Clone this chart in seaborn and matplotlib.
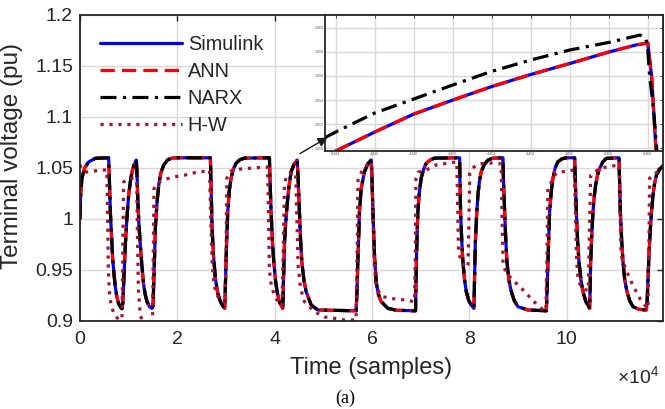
import numpy as np
import pandas as pd
import matplotlib.pyplot as plt
import seaborn as sns
from matplotlib.ticker import FuncFormatter

sns.set_theme(style='whitegrid')
plt.rcParams['font.family'] = ['Liberation Sans', 'DejaVu Sans']
plt.rcParams['mathtext.fontset'] = 'custom'
plt.rcParams['mathtext.rm'] = 'Liberation Sans'
plt.rcParams['text.color'] = '#262626'
plt.rcParams['axes.labelcolor'] = '#262626'
plt.rcParams['xtick.labelcolor'] = '#262626'
plt.rcParams['ytick.labelcolor'] = '#262626'

# Simulink terminal voltage (time in samples)
t_sim = [0, 130, 400, 950, 1780, 3150, 5880,
         6060, 6250, 6450, 6700, 7000, 7260, 7600, 7940, 8400, 8630,
         8800, 9000, 9310, 9650, 10000, 10350, 10680, 11100, 11570,
         11700, 11900, 12100, 12390, 12700, 13080, 13400, 13760, 14300, 14790,
         15000, 15200, 15480, 15800, 16170, 16600, 17190, 18000, 18900, 20000, 26780,
         26900, 27130, 27450, 27810, 28300, 28840, 29300, 29730,
         29870, 30100, 30350, 30650, 31030, 31500, 32060, 32800, 33770, 38910,
         39050, 39250, 39500, 39800, 40150, 40490, 41000, 41650,
         41800, 41990, 42250, 42540, 42950, 43370, 43950, 44600,
         44750, 45080, 45300, 45560, 46000, 46450, 47480, 48850, 56720,
         56900, 57070, 57410, 57750, 58440, 59100, 59810,
         59950, 60150, 60490, 60840, 61300, 61860, 63230, 65000, 68920,
         69000, 69150, 69400, 69700, 70080, 70600, 71110, 72000, 72830, 77970,
         78050, 78170, 78400, 78650, 79000, 79340, 79850, 80360, 80910,
         81050, 81190, 81450, 81730, 82050, 82420, 83000, 83790, 84800, 86870,
         87000, 87220, 87450, 87690, 88100, 88590, 89200, 89960, 92000, 95780,
         95950, 96120, 96460, 96800, 97150, 97600, 98170, 99000, 99890, 101600,
         101750, 101950, 102200, 102490, 102900, 103310, 103900, 104690,
         104780, 104890, 105120, 105370, 105620, 105920, 106300, 106740, 107400, 108110, 110710,
         110850, 110990, 111250, 111530, 111900, 112350, 112900, 113590, 114800, 116330,
         116500, 116670, 116900, 117160, 117420, 117700, 118000, 118390, 119100, 119900]
v_sim = [1.000, 1.0235, 1.040, 1.050, 1.056, 1.0595, 1.060,
         1.035, 1.005, 0.985, 0.962, 0.945, 0.933, 0.923, 0.917, 0.913, 0.912,
         0.918, 0.940, 0.9745, 1.002, 1.0235, 1.037, 1.046, 1.053, 1.0578,
         1.045, 1.015, 0.995, 0.9745, 0.955, 0.935, 0.926, 0.919, 0.914, 0.9124,
         0.915, 0.945, 0.991, 1.015, 1.0333, 1.045, 1.0529, 1.058, 1.0597, 1.060, 1.060,
         1.035, 0.991, 0.962, 0.9418, 0.927, 0.919, 0.915, 0.9124,
         0.935, 0.975, 1.0072, 1.027, 1.040, 1.049, 1.0546, 1.058, 1.0597, 1.060,
         1.035, 1.0072, 0.980, 0.958, 0.940, 0.9288, 0.918, 0.9124,
         0.940, 0.9745, 0.996, 1.0137, 1.033, 1.0464, 1.0535, 1.0578,
         1.045, 1.0072, 0.980, 0.958, 0.940, 0.9288, 0.9157, 0.9108, 0.910,
         0.930, 0.958, 1.0072, 1.030, 1.0464, 1.054, 1.0578,
         1.045, 1.010, 0.965, 0.938, 0.926, 0.919, 0.9124, 0.9105, 0.910,
         0.935, 0.970, 1.0072, 1.026, 1.040, 1.049, 1.0546, 1.058, 1.0597, 1.060,
         1.035, 1.0072, 0.980, 0.958, 0.940, 0.9288, 0.920, 0.9157, 0.9124,
         0.945, 0.9745, 1.002, 1.0235, 1.037, 1.0464, 1.053, 1.0578, 1.0597, 1.060,
         1.035, 1.0072, 0.980, 0.958, 0.940, 0.9288, 0.920, 0.914, 0.9108, 0.910,
         0.930, 0.958, 1.0072, 1.027, 1.040, 1.050, 1.0562, 1.059, 1.060, 1.060,
         1.035, 1.0072, 0.980, 0.958, 0.940, 0.9288, 0.919, 0.9124,
         0.930, 0.958, 0.985, 1.0072, 1.022, 1.0333, 1.043, 1.0497, 1.056, 1.0595, 1.060,
         1.035, 1.0072, 0.980, 0.958, 0.940, 0.9288, 0.920, 0.914, 0.9115, 0.9108,
         0.920, 0.9418, 0.968, 0.9909, 1.009, 1.0235, 1.034, 1.0431, 1.049, 1.0529]

# ANN and NARX lie on the Simulink trace at this scale
t_ann, v_ann = list(t_sim), list(v_sim)
t_narx, v_narx = list(t_sim), list(v_sim)

# Hammerstein-Wiener model
t_hw = [0, 400, 1400, 2800, 4300, 5500,
        5650, 5800, 6000, 6400, 7000, 7800, 8600,
        8750, 8950, 9400, 10200, 11000, 11650,
        11800, 12000, 12400, 13200, 14400, 14900,
        15050, 15200, 16300, 17500, 19700, 21500, 23100, 25900, 26600,
        26800, 27100, 27500, 28000, 29000, 29800,
        30000, 30150, 31000, 33000, 35500, 38500,
        38650, 38900, 39300, 40000, 41000, 41500,
        41700, 42000, 42500, 43300, 44300,
        44500, 44800, 45300, 46100, 47500, 48800, 50200, 52300, 54300, 56700,
        56900, 57100, 58000, 59000, 59800,
        60100, 60400, 60800, 61500, 62100, 64000, 66000, 68700,
        68850, 69000, 69500, 71100, 73200, 75900, 77400,
        77550, 77750, 78400, 79400, 79700,
        79850, 80050, 80600, 82000, 84000, 86500,
        86700, 86900, 87600, 88900, 90300, 91700, 93000, 94400, 95100, 95700,
        95900, 96100, 96800, 97800, 99900, 101500,
        101700, 102000, 102300, 102700, 103500, 104400,
        104600, 104900, 106300, 108100, 110800,
        110950, 111150, 111500, 112900, 113900, 115000, 116000, 116670,
        116850, 117000, 117700, 119100, 120000]
v_hw = [1.053, 1.048, 1.046, 1.047, 1.048, 1.048,
        1.010, 0.955, 0.930, 0.915, 0.907, 0.902, 0.896,
        0.950, 1.036, 1.038, 1.040, 1.040, 1.038,
        0.985, 0.930, 0.905, 0.897, 0.895, 0.897,
        0.960, 1.030, 1.0366, 1.039, 1.0415, 1.043, 1.045, 1.047, 1.048,
        1.010, 0.960, 0.937, 0.926, 0.920, 0.918,
        0.960, 1.040, 1.047, 1.049, 1.050, 1.051,
        1.025, 0.950, 0.935, 0.924, 0.917, 0.915,
        0.960, 1.035, 1.043, 1.045, 1.045,
        1.010, 0.955, 0.932, 0.919, 0.9124, 0.9075, 0.904, 0.9026, 0.901, 0.901,
        0.960, 1.038, 1.048, 1.053, 1.055,
        1.020, 0.960, 0.937, 0.927, 0.924, 0.922, 0.921, 0.919,
        0.960, 1.040, 1.046, 1.048, 1.053, 1.055, 1.056,
        1.020, 0.968, 0.957, 0.952, 0.955,
        0.990, 1.045, 1.050, 1.054, 1.055, 1.054,
        1.000, 0.955, 0.947, 0.940, 0.934, 0.927, 0.920, 0.914, 0.911, 0.910,
        0.960, 1.030, 1.036, 1.045, 1.047, 1.048,
        1.020, 0.960, 0.942, 0.936, 0.931, 0.930,
        0.980, 1.043, 1.048, 1.051, 1.053,
        1.000, 0.9647, 0.958, 0.9418, 0.932, 0.922, 0.9157, 0.9124,
        0.970, 1.040, 1.043, 1.048, 1.051]

# zoomed inset around the peak near 4.46e4
in_t_sim = [44440, 44460, 44480, 44500, 44520, 44540, 44560, 44580, 44594, 44600, 44602, 44604.5]
in_v_sim = [1.04978, 1.05135, 1.05284, 1.0540, 1.05512, 1.05612, 1.05703, 1.05798,
            1.05857, 1.05873, 1.05591, 1.0490]
in_t_ann, in_v_ann = list(in_t_sim), list(in_v_sim)
in_t_narx = [44434, 44442, 44460, 44480, 44500, 44519, 44540, 44560, 44581, 44596,
             44599, 44600, 44601, 44603, 44605]
in_v_narx = [1.05085, 1.05152, 1.05293, 1.05409, 1.05525, 1.05633, 1.05732, 1.05815,
             1.05881, 1.05939, 1.05914, 1.05815, 1.05591, 1.05318, 1.0490]

y_ticks = [0.9, 0.95, 1.0, 1.05, 1.1, 1.15, 1.2]
x_ticks = [0, 20000, 40000, 60000, 80000, 100000]

c_sim, c_ann, c_narx, c_hw = '#0000ff', '#ff0000', '#000000', '#a2142f'
ls_ann = (0, (4.5, 2.2))
ls_narx = (0, (5, 2, 1, 2))
ls_hw = (0, (1.0, 1.8))
lw = 2.3

fig = plt.figure(figsize=(6.65, 4.09), dpi=100)
ax = fig.add_axes([80 / 665, 1 - 321 / 409, 583 / 665, 306 / 409])


def draw(a, t, v, color, ls, label=None):
    df = pd.DataFrame({'t': t, 'v': v})
    sns.lineplot(data=df, x='t', y='v', ax=a, color=color, linestyle=ls, lw=lw,
                 label=label, estimator=None, sort=False, legend=False if label is None else 'auto')


draw(ax, t_sim, v_sim, c_sim, '-', 'Simulink')
draw(ax, t_ann, v_ann, c_ann, ls_ann, 'ANN')
draw(ax, t_narx, v_narx, c_narx, ls_narx, 'NARX')
draw(ax, t_hw, v_hw, c_hw, ls_hw, 'H-W')

ax.set_xlim(0, 119750)
ax.set_ylim(0.9, 1.2)
ax.set_xticks(x_ticks)
ax.set_yticks(y_ticks)
ax.xaxis.set_major_formatter(FuncFormatter(lambda x, p: '%g' % (x / 1e4)))
ax.yaxis.set_major_formatter(FuncFormatter(lambda y, p: '%g' % y))
ax.tick_params(labelsize=14, direction='in', length=4, width=1, color='#262626',
               top=True, right=True)
ax.tick_params(axis='x', pad=7)
ax.tick_params(axis='y', pad=5)
ax.grid(True, color='#d9d9d9', lw=1)
for s in ax.spines.values():
    s.set_color('#262626')
    s.set_linewidth(1.3)
ax.set_facecolor('white')

ax.set_xlabel('Time (samples)', fontsize=17, labelpad=7)
ax.set_ylabel('Terminal voltage (pu)', fontsize=17.5)
ax.yaxis.set_label_coords(-0.097, 0.54)

leg = ax.legend(loc='upper left', bbox_to_anchor=(0.035, 0.935), frameon=False, fontsize=14.3,
                handlelength=4.1, handletextpad=0.3, labelspacing=0.4, borderaxespad=0,
                borderpad=0)

# inset
axin = fig.add_axes([325 / 665, 1 - 151 / 409, 338 / 665, 136 / 409])
axin.set_facecolor('white')
draw(axin, in_t_sim, in_v_sim, c_sim, '-')
draw(axin, in_t_ann, in_v_ann, c_ann, ls_ann)
draw(axin, in_t_narx, in_v_narx, c_narx, ls_narx)
axin.set_xlim(44434.5, 44607.8)
axin.set_ylim(1.04978, 1.06105)
axin.set_xticks(np.arange(44440, 44601, 20))
axin.set_yticks(np.arange(1.050, 1.0601, 0.002))
axin.xaxis.set_major_formatter(FuncFormatter(lambda x, p: '%.3f' % (x / 1e4)))
axin.yaxis.set_major_formatter(FuncFormatter(lambda y, p: '%.3f' % y))
axin.tick_params(labelsize=2.5, direction='in', length=2, width=0.6, pad=1,
                 top=True, right=True, color='#262626', labelcolor='#555555')
axin.grid(True, color='#d9d9d9', lw=1)
axin.set_xlabel('')
axin.set_ylabel('')
for s in axin.spines.values():
    s.set_color('#262626')
    s.set_linewidth(1.3)

axin.annotate('', xy=(44437, 1.05102), xycoords='data',
              xytext=(44670, 1.0627), textcoords=ax.transData,
              arrowprops=dict(arrowstyle='-|>', color='k', lw=1, mutation_scale=14),
              annotation_clip=False)

fig.text(617 / 665, 1 - 377 / 409, r'$\times10^{4}$', fontsize=14, ha='left', va='center')
fig.text(345 / 665, 1 - 398 / 409, '(a)', family='Liberation Serif', fontsize=13,
         color='black', ha='center', va='center')

fig.savefig('out.png', dpi=100)
